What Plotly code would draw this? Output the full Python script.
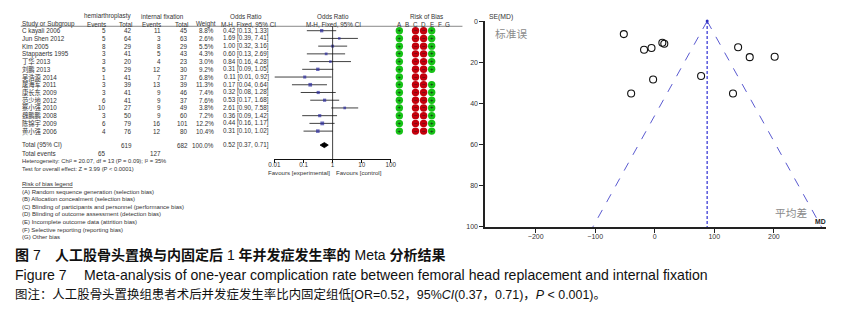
import plotly.graph_objects as go

W, H = 848, 315

# ---------------- data ----------------
studies = ["C kayali 2006", "Jun Shen 2012", "Kim 2005", "Stappaerts 1995", "丁华 2013",
           "刘鹏 2013", "吴浩源 2014", "屠海军 2011", "康长东 2009", "范少地 2012",
           "蔡小强 2010", "魏鹏鹏 2008", "陈锦宇 2009", "黄小强 2006"]
hemi_events = [5, 5, 8, 3, 3, 5, 1, 3, 3, 6, 10, 3, 6, 4]
hemi_total = [42, 64, 29, 41, 20, 29, 41, 39, 41, 41, 27, 50, 79, 76]
fix_events = [11, 3, 8, 5, 4, 12, 7, 13, 9, 9, 9, 9, 16, 12]
fix_total = [45, 63, 29, 43, 23, 30, 37, 39, 46, 37, 49, 60, 101, 80]
weights = [8.8, 2.6, 5.5, 4.3, 3.0, 9.2, 6.8, 11.3, 7.4, 7.6, 3.8, 7.2, 12.2, 10.4]
or_est = [0.42, 1.69, 1.00, 0.60, 0.84, 0.31, 0.11, 0.17, 0.32, 0.53, 2.61, 0.36, 0.44, 0.31]
or_low = [0.13, 0.39, 0.32, 0.13, 0.16, 0.09, 0.01, 0.04, 0.08, 0.17, 0.90, 0.09, 0.16, 0.10]
or_high = [1.33, 7.41, 3.16, 2.69, 4.28, 1.05, 0.92, 0.64, 1.28, 1.68, 7.58, 1.42, 1.17, 1.02]
total_or = 0.52
total_low = 0.37
total_high = 0.71
total_hemi, total_fix = 619, 682
total_ev_hemi, total_ev_fix = 65, 127
or_ticks = [0.01, 0.1, 1, 10, 100]
or_ticktext = ["0.01", "0.1", "1", "10", "100"]

rob_letters = ["A", "B", "C", "D", "E", "F", "G"]
# judgement per study for each domain: "+" low risk, "-" high risk, "" not assessed
rob_A = ["+"] * 14
rob_B = [""] * 14
rob_C = ["-"] * 14
rob_D = ["-"] * 14
rob_E = ["+", "+", "+", "+", "+", "+", "", "+", "+", "+", "+", "+", "+", "+"]
rob_F = [""] * 14
rob_G = [""] * 14

rob_legend = ["(A) Random sequence generation (selection bias)",
              "(B) Allocation concealment (selection bias)",
              "(C) Blinding of participants and personnel (performance bias)",
              "(D) Blinding of outcome assessment (detection bias)",
              "(E) Incomplete outcome data (attrition bias)",
              "(F) Selective reporting (reporting bias)",
              "(G) Other bias"]

funnel_md = [-52, -18, -5.5, 12.7, 16, -2.8, -39.7, 77.8, 140, 159.5, 201.4, 131.4]
funnel_se = [6.3, 13.9, 13.1, 10.5, 11, 28.4, 35.2, 26.7, 12.7, 17.5, 17.3, 35.2]
pooled_md = 88
funnel_left = [88, -104]
funnel_right = [88, 280]
funnel_se_ends = [0, 100]
se_ticks = [0, 20, 40, 60, 80, 100]
md_ticks = [-200, -100, 0, 100, 200]

# ---------------- layout helpers ----------------
FONT = "Liberation Sans, Noto Sans CJK SC"
TXT = "#333333"
FS = 6.3

ROW0, ROWH = 27.3, 7.9  # pixel y of first study row, row pitch


def px(x):
    return x / W


def py(y):
    return 1 - y / H


def row_px(i):
    return ROW0 + ROWH * i


annotations = []


def ann(text, x, y, anchor="left", size=FS, color=TXT, family=FONT, xref="paper", yref="paper"):
    annotations.append(dict(
        text=text, x=x if xref != "paper" else px(x), y=y if yref != "paper" else py(y),
        xref=xref, yref=yref, xanchor=anchor, yanchor="middle", showarrow=False,
        borderpad=0, font=dict(size=size, color=color, family=family)))


fig = go.Figure()

# forest axis geometry
axis_px_y = 158.7
row_top = (0 - ROW0) / ROWH
row_bot = (axis_px_y - ROW0) / ROWH
total_row = (144.3 - ROW0) / ROWH

# ---- CI lines
cx, cy = [], []
for i in range(len(studies)):
    cx += [or_low[i], or_high[i], None]
    cy += [i, i, None]
fig.add_trace(go.Scatter(x=cx, y=cy, mode="lines", line=dict(color="#111111", width=0.8),
                         xaxis="x", yaxis="y", hoverinfo="skip", cliponaxis=False))
fig.add_trace(go.Scatter(x=or_est, y=list(range(len(studies))), mode="markers",
                         marker=dict(symbol="square", color="#2b2b9e",
                                     size=[2.2 + w * 0.13 for w in weights], line=dict(width=0)),
                         xaxis="x", yaxis="y", cliponaxis=False))
# diamond
dh = 0.33
fig.add_trace(go.Scatter(x=[total_low, total_or, total_high, total_or, total_low],
                         y=[total_row, total_row - dh, total_row, total_row + dh, total_row],
                         mode="lines", fill="toself", fillcolor="#000000",
                         line=dict(color="#000000", width=0.8), xaxis="x", yaxis="y",
                         cliponaxis=False))

# ---- risk of bias dots
rob_cols = [rob_A, rob_B, rob_C, rob_D, rob_E, rob_F, rob_G]
rx, ry, rc, rt = [], [], [], []
for j, col in enumerate(rob_cols):
    for i, v in enumerate(col):
        if v:
            rx.append(j)
            ry.append(i)
            rc.append("#16c216" if v == "+" else "#c4000c")
            rt.append("+" if v == "+" else "−")
fig.add_trace(go.Scatter(x=rx, y=ry, mode="markers+text", text=rt, textposition="middle center",
                         textfont=dict(size=6, color="#1a1a1a", family=FONT),
                         marker=dict(size=7.4, color=rc, line=dict(width=0)),
                         xaxis="x2", yaxis="y", cliponaxis=False))

# ---- funnel plot
fig.add_trace(go.Scatter(x=funnel_left, y=funnel_se_ends, mode="lines",
                         line=dict(color="#5a5ad0", width=1, dash="dash"),
                         xaxis="x3", yaxis="y3"))
fig.add_trace(go.Scatter(x=funnel_right, y=funnel_se_ends, mode="lines",
                         line=dict(color="#5a5ad0", width=1, dash="dash"),
                         xaxis="x3", yaxis="y3"))
fig.add_trace(go.Scatter(x=[pooled_md, pooled_md], y=funnel_se_ends, mode="lines",
                         line=dict(color="#4a4ad8", width=1.4, dash="3px,2px"),
                         xaxis="x3", yaxis="y3"))
fig.add_trace(go.Scatter(x=[pooled_md], y=[0], mode="markers",
                         marker=dict(size=3, color="#3030c0"), xaxis="x3", yaxis="y3",
                         cliponaxis=False))
fig.add_trace(go.Scatter(x=funnel_md, y=funnel_se, mode="markers",
                         marker=dict(symbol="circle-open", size=7, color="#111111",
                                     line=dict(width=1.1, color="#111111")),
                         xaxis="x3", yaxis="y3", cliponaxis=False))

# ---------------- table text ----------------
# header row 1
ann("hemiarthroplasty", 102.5, 12.7, "center")
ann("internal fixation", 159, 12.7, "center")
ann("Odds Ratio", 243, 12.7, "center")
ann("Odds Ratio", 332, 12.7, "center")
ann("Risk of Bias", 426.5, 12.7, "center")
# header row 2
ann("Study or Subgroup", 15, 20.5)
ann("Events", 102, 20.5, "right")
ann("Total", 128.5, 20.5, "right")
ann("Events", 158.5, 20.5, "right")
ann("Total", 186, 20.5, "right")
ann("Weight", 191.5, 20.5)
ann("M-H, Fixed, 95% CI", 245.5, 20.5, "center")
ann("M-H, Fixed, 95% CI", 332, 20.5, "center")
for j, L in enumerate(rob_letters):
    ann(L, j, 20.5, "center", xref="x2")

for i, s in enumerate(studies):
    y = row_px(i)
    ann(s, 15, y)
    ann(str(hemi_events[i]), 102, y, "right")
    ann(str(hemi_total[i]), 128.5, y, "right")
    ann(str(fix_events[i]), 158.5, y, "right")
    ann(str(fix_total[i]), 186, y, "right")
    ann(f"{weights[i]:.1f}%", 212, y, "right")
    ann(f"{or_est[i]:.2f} [{or_low[i]:.2f}, {or_high[i]:.2f}]", 267.5, y, "right")

yt = 144.3
ann("Total (95% CI)", 15, yt)
ann(str(total_hemi), 128.5, yt, "right")
ann(str(total_fix), 186, yt, "right")
ann("100.0%", 212, yt, "right")
ann(f"{total_or:.2f} [{total_low:.2f}, {total_high:.2f}]", 267.5, yt, "right")
ann("Total events", 15, 152.7)
ann(str(total_ev_hemi), 102, 152.7, "right")
ann(str(total_ev_fix), 158.5, 152.7, "right")
ann("Heterogeneity: Chi² = 20.07, df = 13 (P = 0.09); I² = 35%", 15, 160.7, size=5.8)
ann("Test for overall effect: Z = 3.99 (P < 0.0001)", 15, 168.3, size=5.8)
ann("Favours [experimental]", 329.5, 172.2, "right", size=6.1)
ann("Favours [control]", 334, 172.2, "left", size=6.1)

ann("<u>Risk of bias legend</u>", 15, 184, size=6.0)
for k, t in enumerate(rob_legend):
    ann(t, 15, 192 + 7.75 * k, size=6.0)

# funnel texts
ann("SE(MD)", 489, 13.5, size=6.8)
ann("标准误", 495, 30.5, size=10.7, color="#8a8a8a", family="Noto Sans CJK SC")
ann("平均差", 779, 213.3, size=10.7, color="#8a8a8a", family="Noto Sans CJK SC")
ann("<b>MD</b>", 820, 222.5, size=6.8, color="#222")

# captions
CAP = "Liberation Sans, Noto Sans CJK SC"
ann("<b>图</b> 7", 8, 257, size=14, color="#111", family=CAP)
ann("<b>人工股骨头置换与内固定后</b> 1 <b>年并发症发生率的</b> Meta <b>分析结果</b>", 49, 257,
    size=14, color="#111", family=CAP)
ann("Figure 7", 8, 277.5, size=14.1, color="#111", family=CAP)
ann("Meta-analysis of one-year complication rate between femoral head replacement and internal fixation",
    78, 277.5, size=14.1, color="#111", family=CAP)
ann("图注：人工股骨头置换组患者术后并发症发生率比内固定组低[OR=0.52，95%<i>CI</i>(0.37，0.71)，<i>P</i> &lt; 0.001)。",
    8, 297.5, size=12.45, color="#111", family=CAP)

# ---------------- shapes ----------------
shapes = [
    dict(type="line", xref="paper", yref="paper", x0=px(15), x1=px(463), y0=py(22.8), y1=py(22.8),
         line=dict(color="#555", width=0.7)),
    dict(type="line", xref="x", yref="y", x0=1, x1=1, y0=(22.8 - ROW0) / ROWH, y1=row_bot,
         line=dict(color="#111", width=0.8)),
]

# ---------------- axes ----------------
fig.update_layout(
    width=W, height=H, margin=dict(l=0, r=0, t=0, b=0),
    paper_bgcolor="white", plot_bgcolor="rgba(0,0,0,0)", showlegend=False,
    annotations=annotations, shapes=shapes,
    xaxis=dict(domain=[px(272.3), px(390.3)], type="log", range=[-2, 2],
               tickvals=or_ticks, ticktext=or_ticktext, showline=True, linecolor="#111",
               linewidth=0.8, ticks="outside", ticklen=2.5, tickcolor="#111", tickwidth=0.8,
               ticklabelstandoff=-3,
               showgrid=False, zeroline=False, anchor="y",
               tickfont=dict(size=FS, color=TXT, family=FONT)),
    yaxis=dict(domain=[py(axis_px_y), 1], range=[row_bot, row_top], visible=False,
               showgrid=False, zeroline=False),
    xaxis2=dict(domain=[px(399 - 8.2), px(399 + 7 * 8.2)], range=[-1, 7], visible=False,
                anchor="y", showgrid=False, zeroline=False),
    xaxis3=dict(domain=[px(486), px(832)], range=[-285, 288], tickvals=md_ticks,
                showline=True, linecolor="#222", linewidth=1.6, ticks="outside", ticklen=4,
                tickcolor="#222", showgrid=False, zeroline=False, anchor="y3",
                ticklabelstandoff=-2,
                tickfont=dict(size=7, color=TXT, family=FONT)),
    yaxis3=dict(domain=[py(228), py(17.5)], range=[100, 0], tickvals=se_ticks,
                showline=True, linecolor="#222", linewidth=1.6, ticks="outside", ticklen=4,
                tickcolor="#222", showgrid=False, zeroline=False, anchor="x3",
                tickfont=dict(size=7, color=TXT, family=FONT)),
)

fig.write_html("out.html", config={"displayModeBar": False},
               post_script="document.body.style.margin='0';document.body.style.overflow='hidden';")
